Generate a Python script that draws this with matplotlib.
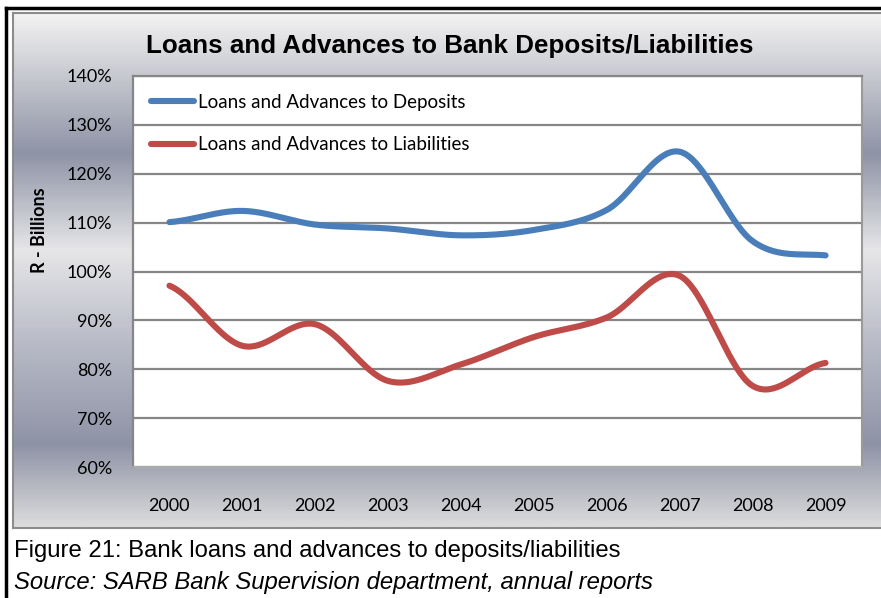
import numpy as np
import matplotlib
matplotlib.use("Agg")
import matplotlib.pyplot as plt
from matplotlib.colors import LinearSegmentedColormap
from matplotlib.lines import Line2D

years = ["2000", "2001", "2002", "2003", "2004", "2005", "2006", "2007", "2008", "2009"]
deposits = [110.1, 112.4, 109.6, 108.8, 107.4, 108.5, 112.6, 124.5, 106.2, 103.3]
liabilities = [97.1, 84.8, 89.2, 77.6, 81.0, 86.6, 90.6, 99.1, 76.6, 81.3]

BLUE = "#4a7ebb"
RED = "#be4b48"
GRID = "#868686"


def smooth(ys, n=40):
    # excel style smoothed line: catmull-rom through the points
    p = np.asarray(ys, dtype=float)
    ext = np.concatenate([[p[0]], p, [p[-1]]])
    xs_out, ys_out = [], []
    for i in range(len(p) - 1):
        m0 = (ext[i + 2] - ext[i]) / 2
        m1 = (ext[i + 3] - ext[i + 1]) / 2
        t = np.linspace(0, 1, n, endpoint=(i == len(p) - 2))
        h00 = 2 * t**3 - 3 * t**2 + 1
        h10 = t**3 - 2 * t**2 + t
        h01 = -2 * t**3 + 3 * t**2
        h11 = t**3 - t**2
        xs_out.append(i + t)
        ys_out.append(h00 * p[i] + h10 * m0 + h01 * p[i + 1] + h11 * m1)
    return np.concatenate(xs_out), np.concatenate(ys_out)


fig = plt.figure(figsize=(8.81, 5.98), dpi=100)
fig.patch.set_facecolor("white")

# gradient background of the chart area
bg = fig.add_axes([13 / 881, 1 - 528 / 598, 1 - 13 / 881, 515 / 598])
stops = [(0.0, "#f2f2f2"), (0.09, "#d2d3d8"), (0.27, "#8e93a6"), (0.46, "#e6e6e8"),
         (0.64, "#b9bbc7"), (0.84, "#8e93a6"), (1.0, "#dcdcdc")]
cmap = LinearSegmentedColormap.from_list("silver", stops)
bg.imshow(np.linspace(0, 1, 300).reshape(-1, 1), cmap=cmap, aspect="auto",
          extent=[0, 1, 0, 1], origin="upper")
bg.set_xlim(0, 1)
bg.set_ylim(0, 1)
bg.axis("off")
fig.add_artist(Line2D([13 / 881, 1.0], [1 - 13 / 598] * 2, color="#8c8c8c", lw=1.5))
fig.add_artist(Line2D([13 / 881, 1.0], [1 - 528 / 598] * 2, color="#8c8c8c", lw=1.5))
fig.add_artist(Line2D([13 / 881] * 2, [1 - 13 / 598, 1 - 528 / 598], color="#8c8c8c", lw=1.5))

# page frame
fig.add_artist(Line2D([6 / 881, 1.0], [1 - 8 / 598] * 2, color="black", lw=2.5))
fig.add_artist(Line2D([6 / 881] * 2, [1 - 8 / 598, 0], color="black", lw=2.5))

ax = fig.add_axes([133 / 881, 1 - 467 / 598, 729 / 881, 391 / 598])
ax.set_facecolor("white")

x, y = smooth(deposits)
ax.plot(x, y, color=BLUE, lw=4.4, solid_capstyle="round", label="Loans and Advances to Deposits", zorder=3)
x, y = smooth(liabilities)
ax.plot(x, y, color=RED, lw=4.4, solid_capstyle="round", label="Loans and Advances to Liabilities", zorder=3)

ax.set_xlim(-0.5, len(years) - 0.5)
ax.set_ylim(60, 140)
ax.set_yticks(range(60, 141, 10))
ax.set_yticklabels([f"{v}%" for v in range(60, 141, 10)])
ax.set_xticks(range(len(years)))
ax.set_xticklabels(years)
ax.tick_params(length=0, labelsize=13, colors="black")
ax.tick_params(axis="y", pad=15)
ax.tick_params(axis="x", pad=22)
for lab in ax.get_xticklabels() + ax.get_yticklabels():
    lab.set_family("Lato")

ax.yaxis.grid(True, color=GRID, lw=1.6)
ax.set_axisbelow(True)
ax.spines["left"].set_color(GRID)
ax.spines["left"].set_linewidth(1.6)
ax.spines["top"].set_color(GRID)
ax.spines["top"].set_linewidth(1.6)
ax.spines["right"].set_color("#9a9a9a")
ax.spines["right"].set_linewidth(1.5)
ax.spines["bottom"].set_color("#b0b0b0")
ax.spines["bottom"].set_linewidth(1.2)

ax.set_ylabel("R - Billions", fontsize=13, fontweight="bold", family="Lato")
ax.yaxis.set_label_coords(-0.117, 0.605)

leg = ax.legend(loc="upper left", frameon=False, prop={"family": "Lato", "size": 13.5},
                handlelength=2.3, handletextpad=0.2, labelspacing=1.35,
                bbox_to_anchor=(0.0, 1.0), borderaxespad=0.55)

fig.text(450 / 881, 1 - 46 / 598, "Loans and Advances to Bank Deposits/Liabilities",
         ha="center", va="center", fontsize=18.7, fontweight="bold", family="Liberation Sans")

fig.text(14 / 881, 1 - 551 / 598, "Figure 21: Bank loans and advances to deposits/liabilities",
         ha="left", va="center", fontsize=17.2, family="Liberation Sans")
fig.text(14 / 881, 1 - 583 / 598, "Source: SARB Bank Supervision department, annual reports",
         ha="left", va="center", fontsize=17.2, style="italic", family="Liberation Sans")

fig.savefig("out.png", dpi=100)
